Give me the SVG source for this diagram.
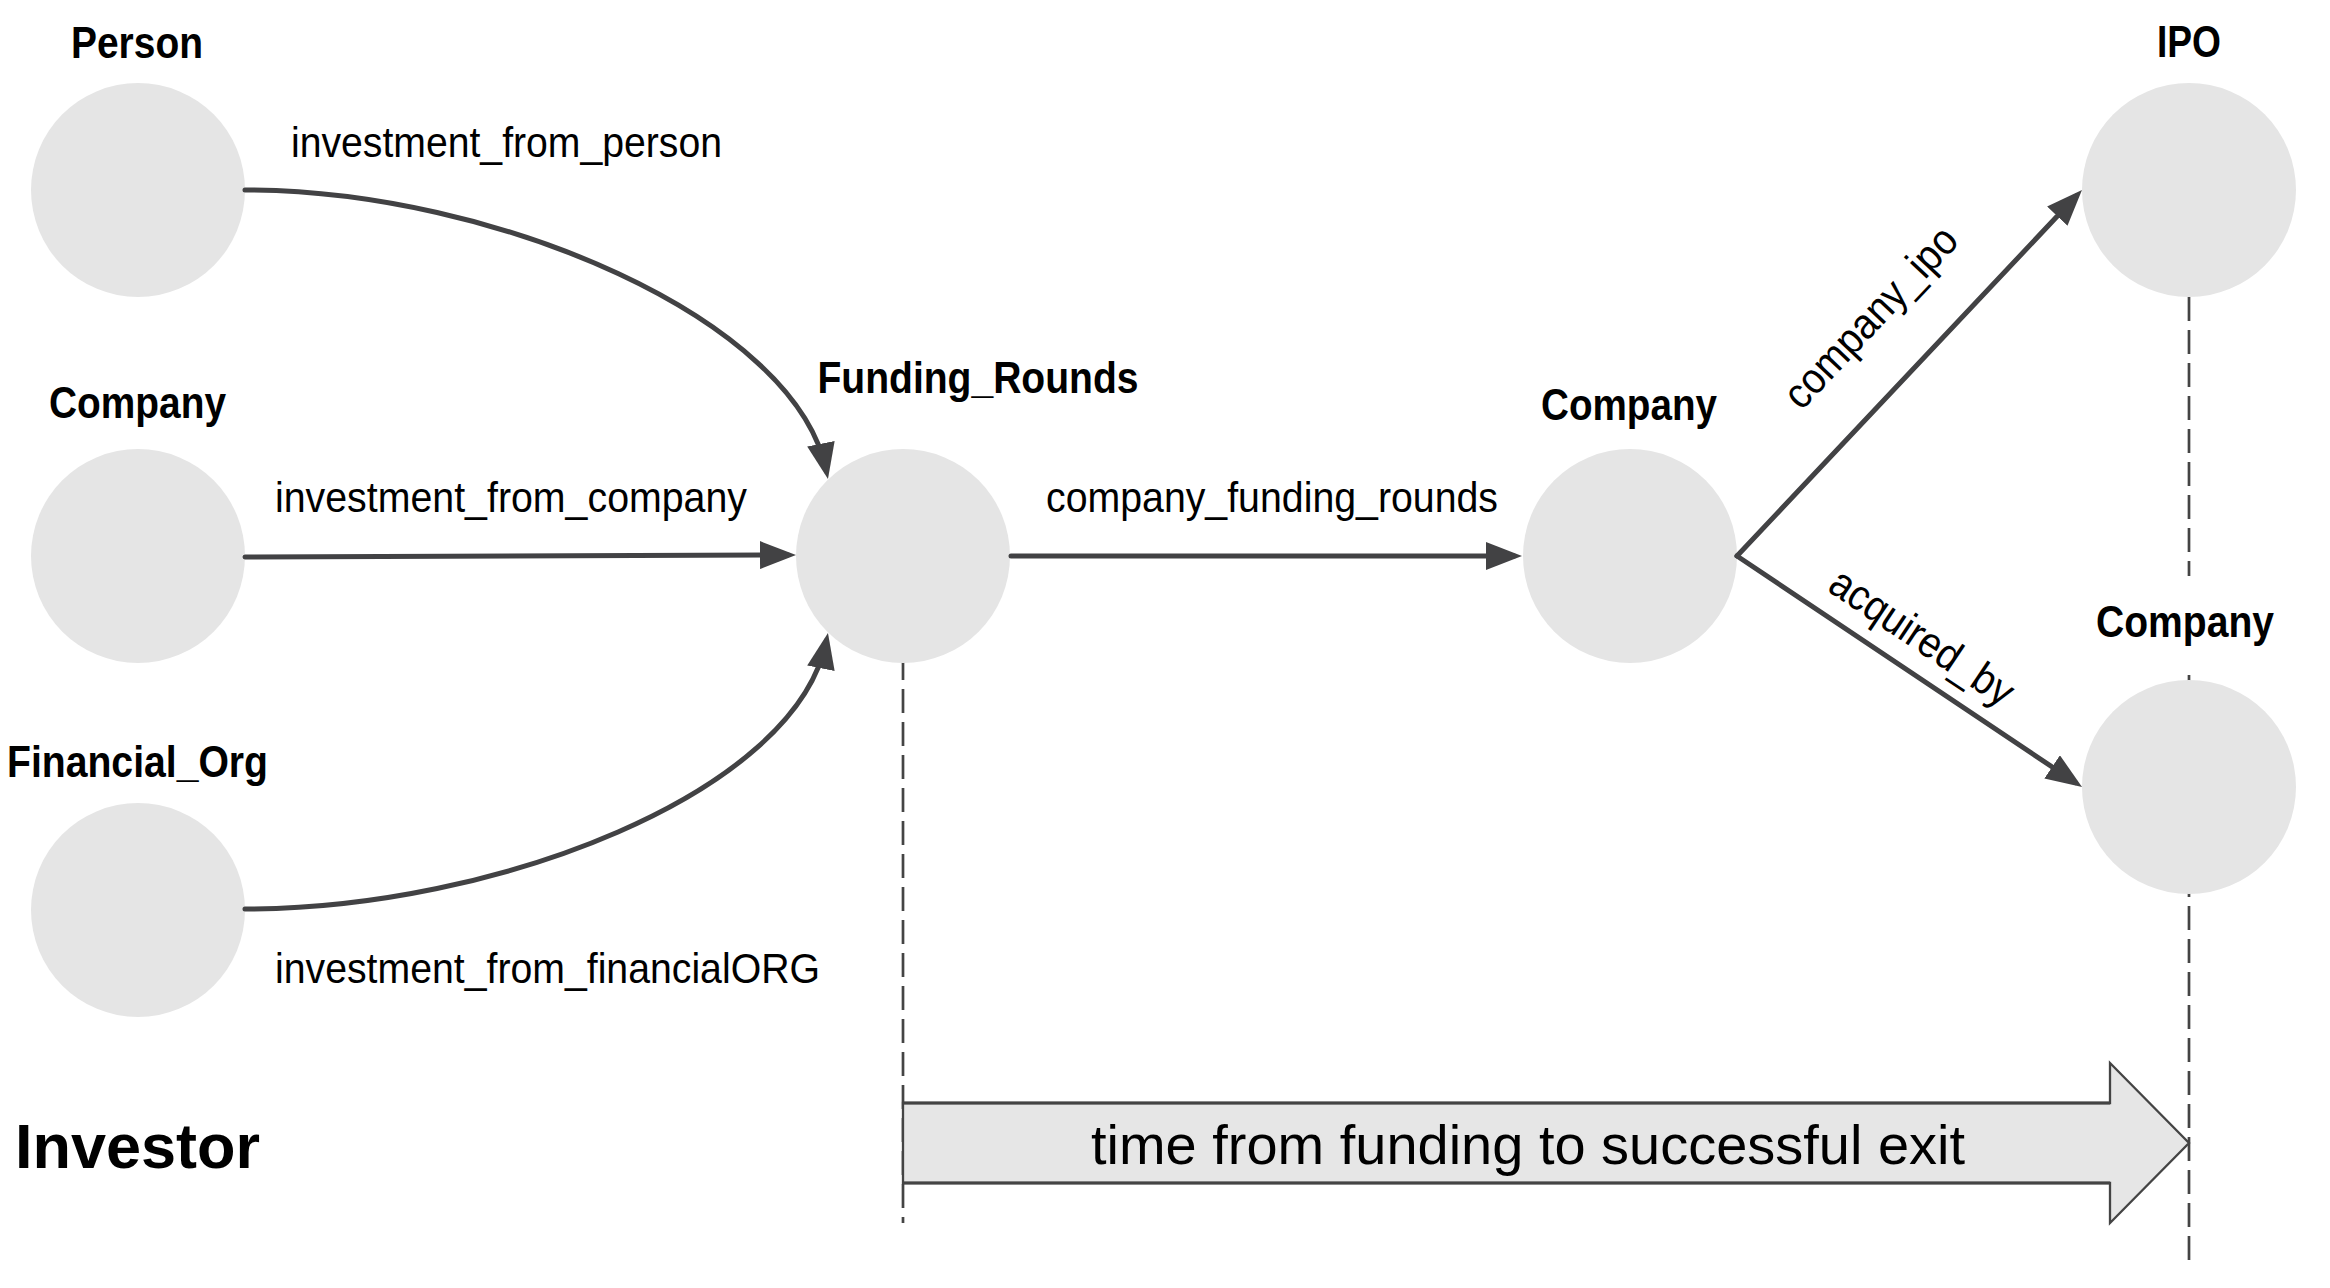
<svg xmlns="http://www.w3.org/2000/svg" width="2330" height="1288" viewBox="0 0 2330 1288">
  <style>
    .node { fill: #e5e5e5; }
    .title { font-family: "Liberation Sans", Arial, sans-serif; font-weight: bold; font-size: 44px; fill: #000; text-anchor: middle; }
    .elabel { font-family: "Liberation Sans", Arial, sans-serif; font-size: 43px; fill: #000; }
    .edge { fill: none; stroke: #424244; stroke-width: 5; stroke-linecap: round; marker-end: url(#ah); }
    .dash { fill: none; stroke: #444; stroke-width: 2.7; stroke-dasharray: 24 9; }
  </style>
  <defs>
    <marker id="ah" markerUnits="userSpaceOnUse" markerWidth="36" markerHeight="28" refX="28" refY="14" orient="auto" viewBox="0 0 36 28">
      <path d="M0,0 L36,14 L0,28 z" fill="#424244"/>
    </marker>
  </defs>
  <rect width="2330" height="1288" fill="#fff"/>

  <g id="timeline">
    <path class="dash" d="M903,656 L903,1223"/>
    <path class="dash" d="M2189,297 L2189,576"/>
    <path class="dash" d="M2189,675 L2189,1268"/>
  </g>

  <g id="person">
    <circle class="node" cx="138" cy="190" r="107"/>
    <text class="title" x="137" y="58" textLength="132" lengthAdjust="spacingAndGlyphs">Person</text>
  </g>
  <g id="company-investor">
    <circle class="node" cx="138" cy="556" r="107"/>
    <text class="title" x="137.5" y="418" textLength="177" lengthAdjust="spacingAndGlyphs">Company</text>
  </g>
  <g id="financial-org">
    <circle class="node" cx="138" cy="910" r="107"/>
    <text class="title" x="137.5" y="777" textLength="261" lengthAdjust="spacingAndGlyphs">Financial_Org</text>
  </g>
  <g id="funding-rounds">
    <circle class="node" cx="903" cy="556" r="107"/>
    <text class="title" x="978" y="393" textLength="321" lengthAdjust="spacingAndGlyphs">Funding_Rounds</text>
  </g>
  <g id="company">
    <circle class="node" cx="1630" cy="556" r="107"/>
    <text class="title" x="1629" y="420" textLength="176" lengthAdjust="spacingAndGlyphs">Company</text>
  </g>
  <g id="ipo">
    <circle class="node" cx="2189" cy="190" r="107"/>
    <text class="title" x="2189" y="57" textLength="64" lengthAdjust="spacingAndGlyphs">IPO</text>
  </g>
  <g id="company-acquirer">
    <circle class="node" cx="2189" cy="787" r="107"/>
    <text class="title" x="2185" y="637" textLength="178" lengthAdjust="spacingAndGlyphs">Company</text>
  </g>
  <g id="investor-label">
    <text x="15" y="1168" font-family="'Liberation Sans', Arial, sans-serif" font-weight="bold" font-size="63">Investor</text>
  </g>

  <g id="time-arrow">
    <polygon points="903,1103 2110,1103 2110,1063 2189,1143 2110,1223 2110,1183 903,1183" fill="#e6e6e6" stroke="#444" stroke-width="2.3" stroke-linejoin="miter"/>
    <path d="M903,1103 L2110,1103 M903,1183 L2110,1183" fill="none" stroke="#444" stroke-width="3.2"/>
    <text x="1528" y="1164" font-family="'Liberation Sans', Arial, sans-serif" font-size="56" text-anchor="middle" textLength="874" lengthAdjust="spacingAndGlyphs">time from funding to successful exit</text>
  </g>

  <g id="connectors">
    <path class="edge" d="M245,190 C495,190 796,319 826.4,471.2"/>
    <path class="edge" d="M245,557 L788,555"/>
    <path class="edge" d="M245,909 C495,909 796,793 826.4,640.8"/>
    <path class="edge" d="M1011,556 L1514,556"/>
    <path class="edge" d="M1737,556 L2076.5,195.8"/>
    <path class="edge" d="M1737,556 L2075.4,782.5"/>
    <text class="elabel" x="291" y="157" textLength="431" lengthAdjust="spacingAndGlyphs">investment_from_person</text>
    <text class="elabel" x="275" y="512" textLength="472" lengthAdjust="spacingAndGlyphs">investment_from_company</text>
    <text class="elabel" x="275" y="983" textLength="545" lengthAdjust="spacingAndGlyphs">investment_from_financialORG</text>
    <text class="elabel" x="1046" y="512" textLength="452" lengthAdjust="spacingAndGlyphs">company_funding_rounds</text>
    <text class="elabel" text-anchor="middle" transform="translate(1881,327) rotate(-46.7)" textLength="232" lengthAdjust="spacingAndGlyphs">company_ipo</text>
    <text class="elabel" text-anchor="middle" transform="translate(1914,649) rotate(33.8)" textLength="212" lengthAdjust="spacingAndGlyphs">acquired_by</text>
  </g>
</svg>
